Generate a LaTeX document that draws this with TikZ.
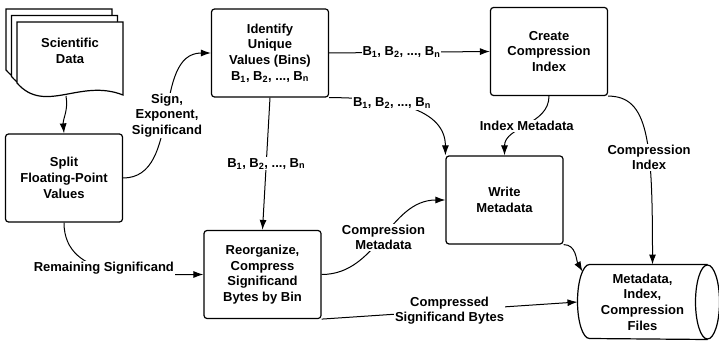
\documentclass[tikz,border=0pt]{standalone}
\usepackage{fontspec}
\setmainfont{Liberation Sans}
\usetikzlibrary{shapes.geometric, positioning, arrows.meta}
\newcommand\Bins{B\textsubscript{1}, B\textsubscript{2}, ..., B\textsubscript{n}}

\begin{document}
\begin{tikzpicture}[x=1pt, y=1pt, font=\fontsize{13}{15.7}\selectfont\bfseries, line width=1pt]
        \tikzstyle{block} = [rectangle, draw, rounded corners=3pt, align=center, minimum width=117pt, minimum height=88pt, line width=1.2pt]
        \tikzstyle{store} = [rectangle, align=center, minimum width=129pt, minimum height=74pt, inner sep=0pt]
        \tikzstyle{lbl} = [fill=white, inner sep=1pt, align=center]
        \tikzstyle{line} = [-{Latex[length=10pt, width=7pt]}]
        \useasboundingbox (0,0) rectangle (719,340);

        % stacked documents
        \foreach \d in {2,1,0}
            \draw [fill=white, line width=1.2pt, shift={({-5.5*\d pt},{6.5*\d pt})}]
                (17,318) -- (123,318) -- (123,245) .. controls (80,262) and (45,225) .. (17,257) -- cycle;
        \node (sci) at (70,289) [align=center] {Scientific\\Data};
        \coordinate (sci-out) at (66,244);

        \node (spl) at (64,162) [block] {Split\\Floating-Point\\Values};
        \node (idf) at (270,287) [block] {Identify\\Unique\\Values (Bins)\\\Bins};
        \node (cci) at (549,288.5) [block] {Create\\Compression\\Index};
        \node (wrt) at (504.5,140) [block] {Write\\Metadata};
        \node (reo) at (262.5,65.5) [block] {Reorganize,\\Compress\\Significand\\Bytes by Bin};
        \node (cyl) at (642.5,38) [store] {Metadata,\\Index,\\Compression\\Files};
        % cylinder outline
        \draw [line width=1.2pt] (cyl.north east) -- ([xshift=12pt]cyl.north west)
            arc [start angle=90, end angle=270, x radius=12pt, y radius=37pt] -- (cyl.south east);
        \draw [line width=1.2pt] (cyl.east) ellipse [x radius=12pt, y radius=37pt];

        \draw [line] (sci-out) to [out=-80, in=95] (spl.north);
        \draw [line] (spl.east) to [out=0, in=180] node [lbl] {Sign,\\Exponent,\\Significand} (idf.west);
        \draw [line] (spl.south) to [out=-90, in=180] node [lbl, pos=0.45] {Remaining Significand} (reo.west);
        \draw [line] (idf.east) -- node [lbl, pos=0.45] {\Bins} (cci.west);
        \draw [line] (idf.south east) to [out=0, in=90] node [lbl, pos=0.4] {\Bins} (wrt.north west);
        \draw [line] (idf.south) -- node [lbl] {\Bins} (reo.north);
        \draw [line] (cci.south) to [out=-90, in=90] node [lbl] {Index Metadata} (wrt.north);
        \draw [line] (cci.south east) .. controls +(40,0) and +(0,125) .. node [lbl, pos=0.63] {Compression\\Index} ([xshift=10pt]cyl.north);
        \draw [line] (reo.east) to [out=0, in=180] node [lbl] {Compression\\Metadata} (wrt.west);
        \draw [line] (wrt.south east) to [out=0, in=120] ([xshift=5pt, yshift=-7pt]cyl.north west);
        \draw [line] (reo.south east) -- node [lbl] {Compressed\\Significand Bytes} (cyl.west);
    \end{tikzpicture}
\end{document}
